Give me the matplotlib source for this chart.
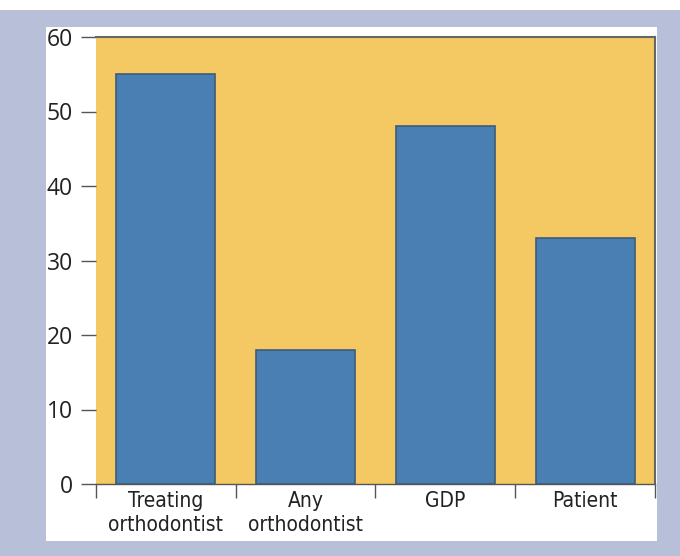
import matplotlib
matplotlib.use("Agg")
import matplotlib.pyplot as plt
from matplotlib.patches import Rectangle

categories = ["Treating\northodontist", "Any\northodontist", "GDP", "Patient"]
values = [55, 18, 48, 33]
yticks = [0, 10, 20, 30, 40, 50, 60]

W, H = 680, 556
fig = plt.figure(figsize=(W / 100, H / 100), dpi=100)
fig.patch.set_facecolor("#B8C0D9")

# white strip along the top and white inner panel
fig.add_artist(Rectangle((0, 1 - 10 / H), 1, 10 / H, transform=fig.transFigure,
                         facecolor="white", edgecolor="none", zorder=0))
fig.add_artist(Rectangle((46 / W, 1 - 541 / H), (657 - 46) / W, (541 - 27) / H,
                         transform=fig.transFigure, facecolor="white",
                         edgecolor="none", zorder=0))

ax = fig.add_axes([96 / W, 1 - 484 / H, (655 - 96) / W, (484 - 37) / H])
ax.set_facecolor("#F4C862")

x = list(range(len(values)))
ax.bar(x, values, width=0.71, color="#4A7FB4", edgecolor="#3C5C78",
       linewidth=1.2, zorder=3)

ax.set_xlim(-0.5, len(values) - 0.5)
ax.set_ylim(0, 60)
ax.set_yticks(yticks)
ax.set_yticklabels([str(v) for v in yticks], fontsize=16.5, family="Open Sans",
                   color="#222222")
ax.set_xticks([i - 0.5 for i in range(len(values) + 1)])
ax.set_xticklabels([])
ax.set_xticks(x, minor=True)
ax.set_xticklabels(categories, minor=True, fontsize=15, family="DejaVu Sans",
                   fontstretch="condensed", color="#222222", linespacing=1.25)
ax.tick_params(axis="x", which="minor", length=0, pad=5)
ax.tick_params(axis="x", which="major", length=10, width=1, color="#555555",
               direction="out")
ax.tick_params(axis="y", length=10.5, width=1, color="#555555", pad=6)

for side in ["top", "right"]:
    ax.spines[side].set_color("#666666")
    ax.spines[side].set_linewidth(1.5)
ax.spines["top"].set_linestyle((0, (1, 1)))
ax.spines["left"].set_visible(False)
ax.spines["bottom"].set_color("#555555")
ax.spines["bottom"].set_linewidth(1)

fig.savefig("out.png", dpi=100, facecolor=fig.get_facecolor())
